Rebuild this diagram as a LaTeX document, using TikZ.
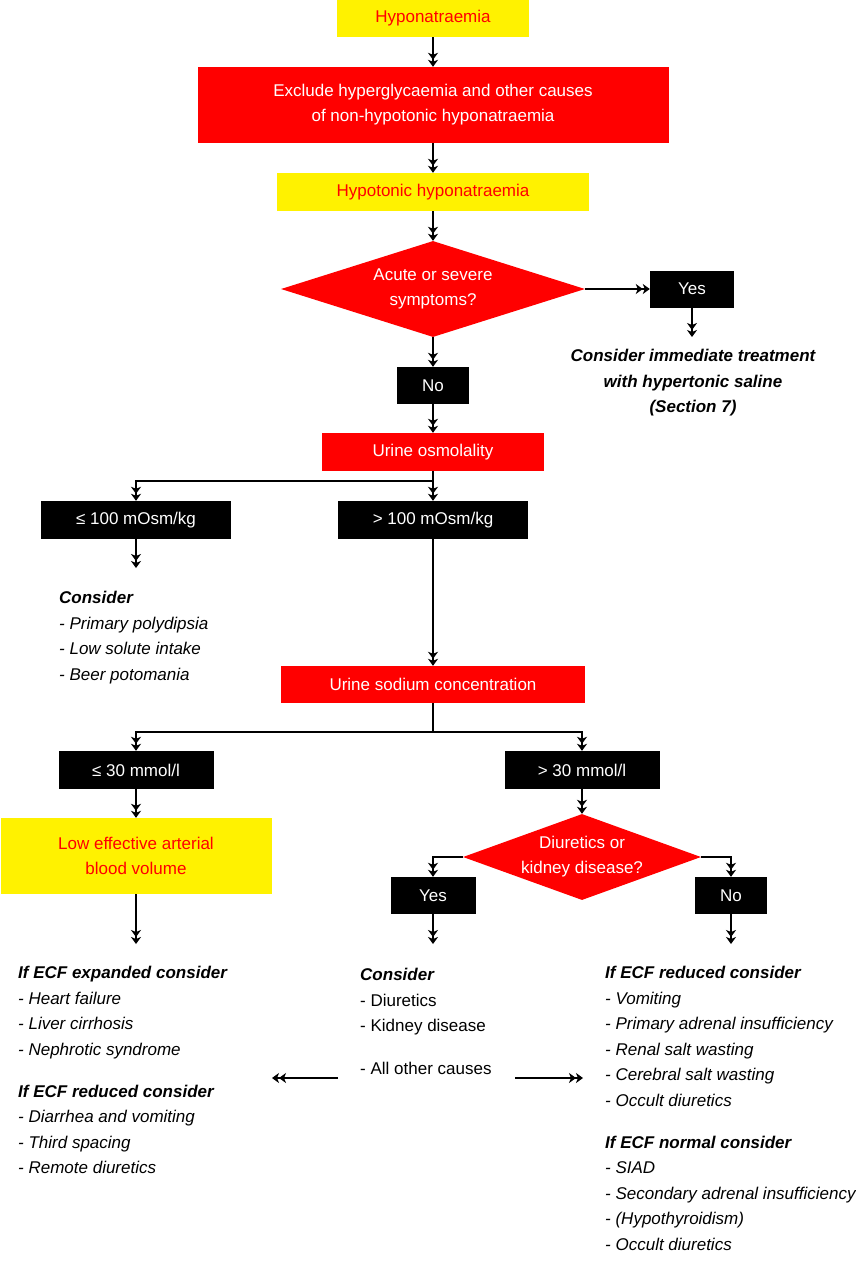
\documentclass[tikz,border=0pt]{standalone}
\usepackage{fontspec}
\setmainfont{Liberation Sans}
\usetikzlibrary{arrows.meta}
\usetikzlibrary{shapes.geometric}

\begin{document}
\begin{tikzpicture}[
  x=1pt, y=-1pt,
  box/.style = {inner sep=0pt, align=center, font=\fontsize{17}{25}\selectfont},
  yellowbox/.style = {box, fill=yellow, text=red},
  redbox/.style = {box, fill=red, text=white},
  blackbox/.style = {box, fill=black, text=white},
  decision/.style = {box, diamond, fill=red, text=white, aspect=3},
  note/.style = {inner sep=0pt, align=left, anchor=north west,
    font=\fontsize{17}{25.5}\selectfont\itshape},
  line/.style = {line width=1.2pt},
  flow/.style = {line, ->>},
  >={Stealth[length=7pt, width=10pt, inset=2pt]},
]
  \useasboundingbox (0,0) rectangle (856,1280);

  % main column
  \node[yellowbox, minimum width=192pt, minimum height=37pt] (hypo) at (433,18.5) {Hyponatraemia};
  \node[redbox, minimum width=471pt, minimum height=76pt] (excl) at (433,105) {Exclude hyperglycaemia and other causes\\of non-hypotonic hyponatraemia};
  \node[yellowbox, minimum width=312pt, minimum height=38pt] (hypot) at (433,192) {Hypotonic hyponatraemia};
  \node[decision, minimum width=304pt, minimum height=96pt] (acute) at (433,289) {Acute or severe\\symptoms?};
  \node[blackbox, minimum width=84pt, minimum height=37pt] (yes1) at (692,289) {Yes};
  \node[blackbox, minimum width=72pt, minimum height=37pt] (no1) at (433,385.5) {No};
  \node[redbox, minimum width=222pt, minimum height=38pt] (uosm) at (433,452) {Urine osmolality};

  \node[blackbox, minimum width=190pt, minimum height=38pt] (le100) at (136,520) {≤ 100 mOsm/kg};
  \node[blackbox, minimum width=190pt, minimum height=38pt] (gt100) at (433,520) {> 100 mOsm/kg};
  \node[redbox, minimum width=304pt, minimum height=37pt] (usod) at (433,684.5) {Urine sodium concentration};

  \node[blackbox, minimum width=155pt, minimum height=38pt] (le30) at (136,770) {≤ 30 mmol/l};
  \node[blackbox, minimum width=155pt, minimum height=38pt] (gt30) at (582,770) {> 30 mmol/l};
  \node[yellowbox, minimum width=271pt, minimum height=76pt] (lowvol) at (136,856) {Low effective arterial\\blood volume};
  \node[decision, aspect=2.77, minimum width=238pt, minimum height=86pt] (diur) at (582,857) {Diuretics or\\kidney disease?};
  \node[blackbox, minimum width=85pt, minimum height=37pt] (yes2) at (433,895.5) {Yes};
  \node[blackbox, minimum width=72pt, minimum height=37pt] (no2) at (731,895.5) {No};

  % texts
  \node[note, align=center, anchor=north, font=\fontsize{17}{25.5}\selectfont\bfseries\itshape] (treat) at (693,349)
    {Consider immediate treatment\\with hypertonic saline\\(Section 7)};
  \node[note] (consA) at (59,591)
    {\textbf{Consider}\\- Primary polydipsia\\- Low solute intake\\- Beer potomania};
  \node[note] (ecfL) at (18,966)
    {\textbf{If ECF expanded consider}\\- Heart failure\\- Liver cirrhosis\\- Nephrotic syndrome\\[16.5pt]
     \textbf{If ECF reduced consider}\\- Diarrhea and vomiting\\- Third spacing\\- Remote diuretics};
  \node[note, font=\fontsize{17}{25.5}\selectfont] (mid) at (360,968)
    {\textbf{\textit{Consider}}\\- Diuretics\\- Kidney disease\\[17.5pt]- All other causes};
  \node[note] (ecfR) at (605,966)
    {\textbf{If ECF reduced consider}\\- Vomiting\\- Primary adrenal insufficiency\\- Renal salt wasting\\- Cerebral salt wasting\\- Occult diuretics\\[16.5pt]
     \textbf{If ECF normal consider}\\- SIAD\\- Secondary adrenal insufficiency\\- (Hypothyroidism)\\- Occult diuretics};

  \coordinate (osm) at (433,481);
  \coordinate (sod) at (433,732);
  \coordinate (othL) at (338,1078);
  \coordinate (toL) at (272,1078);
  \coordinate (othR) at (515,1078);
  \coordinate (toR) at (583,1078);

  % connectors
  \draw[flow] (hypo) -- (excl);
  \draw[flow] (excl) -- (hypot);
  \draw[flow] (hypot) -- (acute);
  \draw[flow] (acute) -- (yes1);
  \draw[flow, shorten >=12pt] (yes1) -- (yes1 |- treat.north);
  \draw[flow] (acute) -- (no1);
  \draw[flow] (no1) -- (uosm);

  \draw[line] (uosm) -- (osm);
  \draw[flow] (osm) -| (le100);
  \draw[flow] (osm) -- (gt100);
  \draw[flow, shorten >=23pt] (le100) -- (le100 |- consA.north);
  \draw[flow] (gt100) -- (usod);

  \draw[line] (usod) -- (sod);
  \draw[flow] (sod) -| (le30);
  \draw[flow] (sod) -| (gt30);
  \draw[flow] (le30) -- (lowvol);
  \draw[flow, shorten >=22pt] (lowvol) -- (lowvol |- ecfL.north);
  \draw[flow] (gt30) -- (diur);
  \draw[flow] (diur.west) -| (yes2);
  \draw[flow] (diur.east) -| (no2);
  \draw[flow, shorten >=24pt] (yes2) -- (yes2 |- mid.north);
  \draw[flow, shorten >=22pt] (no2) -- (no2 |- ecfR.north);

  \draw[flow] (othL) -- (toL);
  \draw[flow] (othR) -- (toR);

\end{tikzpicture}
\end{document}
